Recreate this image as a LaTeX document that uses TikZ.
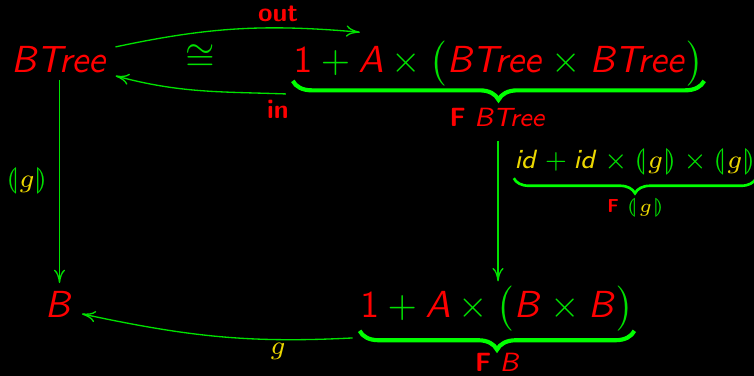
\documentclass[tikz,border=0pt]{standalone}
\usepackage{xcolor}
\usepackage{stmaryrd}
\usepackage{tikz}
\usetikzlibrary{arrows.meta, decorations.pathreplacing}

% sans serif maths, as on the slide
\DeclareMathVersion{sans}
\SetSymbolFont{operators}{sans}{OT1}{cmss}{m}{n}
\SetSymbolFont{letters}{sans}{OT1}{cmss}{m}{sl}
\SetMathAlphabet{\mathbf}{sans}{OT1}{cmss}{bx}{n}
\DeclareMathAlphabet{\mathgi}{OML}{cmm}{m}{it}
\AtBeginDocument{\mathversion{sans}}

\definecolor{fgreen}{RGB}{0,255,0}
\definecolor{tgreen}{RGB}{0,225,0}
\definecolor{fred}{RGB}{255,0,0}
\definecolor{fyellow}{RGB}{235,215,0}

\newcommand{\rt}[1]{{\color{fred}#1}}
\newcommand{\yt}[1]{{\color{fyellow}#1}}
\newcommand{\cata}[1]{\llparenthesis\mkern0.5mu#1\mkern0.5mu\rrparenthesis}

\begin{document}
\begin{tikzpicture}[
  x=0.2653pt, y=0.2653pt,
  every node/.style={text=tgreen, inner sep=0pt},
  lbl/.style={font=\scriptsize},
  arr/.style={-{To[length=3.6pt,width=3pt]}, draw=tgreen, line width=0.35pt},
  ubrace/.style={draw=fgreen, line width=1.1pt, decorate,
    decoration={brace, mirror, amplitude=5pt}},
]
  \fill[black] (0,0) rectangle (754,376);
  \useasboundingbox (0,0) rectangle (754,376);

  % objects
  \node[anchor=base] (BTree) at (59.5,303) {$\rt{BTree}$};
  \node (iso) at (200,318) {$\cong$};
  \node[anchor=base] (FBT) at (498.5,303)
       {$\rt{1} + \rt{A} \times \bigl(\rt{BTree} \times \rt{BTree}\bigr)$};
  \node[anchor=base, lbl] (FBTlbl) at (498,249) {$\rt{\mathbf{F}\;BTree}$};
  \node[anchor=base] (B) at (59,58) {$\rt{B}$};
  \node[anchor=base] (FB) at (497,58)
       {$\rt{1} + \rt{A} \times \bigl(\rt{B} \times \rt{B}\bigr)$};
  \node[anchor=base, lbl] (FBlbl) at (498,4) {$\rt{\mathbf{F}\;B}$};

  % labels
  \node[anchor=base, lbl] (outlbl) at (278,354) {$\rt{\mathbf{out}}$};
  \node[anchor=base, lbl] (inlbl) at (278,257) {$\rt{\mathbf{in}}$};
  \node[anchor=base, lbl] (catalbl) at (27,188) {$\cata{\yt{\mathgi{g}}}$};
  \node[anchor=base, lbl] (Fg) at (635,207)
       {$\yt{id} + \yt{id} \times \cata{\yt{\mathgi{g}}} \times \cata{\yt{\mathgi{g}}}$};
  \node[anchor=base, font=\tiny] (Fglbl) at (636,163)
       {$\rt{\mathbf{F}}\;\cata{\yt{\mathgi{g}}}$};
  \node[anchor=base, lbl] (glbl) at (278,21) {$\yt{\mathgi{g}}$};

  % braces
  \draw[ubrace] ([yshift=1.6pt]FBT.south west) -- ([yshift=1.6pt]FBT.south east);
  \draw[ubrace] ([yshift=0.3pt]FB.south west) -- ([yshift=0.3pt]FB.south east);
  \draw[ubrace, line width=0.7pt, decoration={amplitude=4pt}]
       ([yshift=-0.5pt]Fg.south west) -- ([yshift=-0.5pt]Fg.south east);

  % arrows
  \draw[arr] ([shift={(7,13)}]BTree.east) to[out=12, in=175]
             ([shift={(67,8)}]FBT.north west);
  \draw[arr] ([shift={(-7,-7)}]FBT.south west) to[out=178, in=-15]
             ([shift={(7,-16)}]BTree.east);
  \draw[arr, shorten <=1.6pt, shorten >=2.1pt]
       (BTree.south) -- (BTree.south |- B.north);
  \draw[arr, shorten <=3.4pt, shorten >=1pt]
       (FBTlbl.south) -- (FBTlbl.south |- FB.north);
  \draw[arr] ([shift={(-7,-6)}]FB.south west) to[out=183, in=-12]
             ([shift={(8,-9)}]B.east);
\end{tikzpicture}
\end{document}
